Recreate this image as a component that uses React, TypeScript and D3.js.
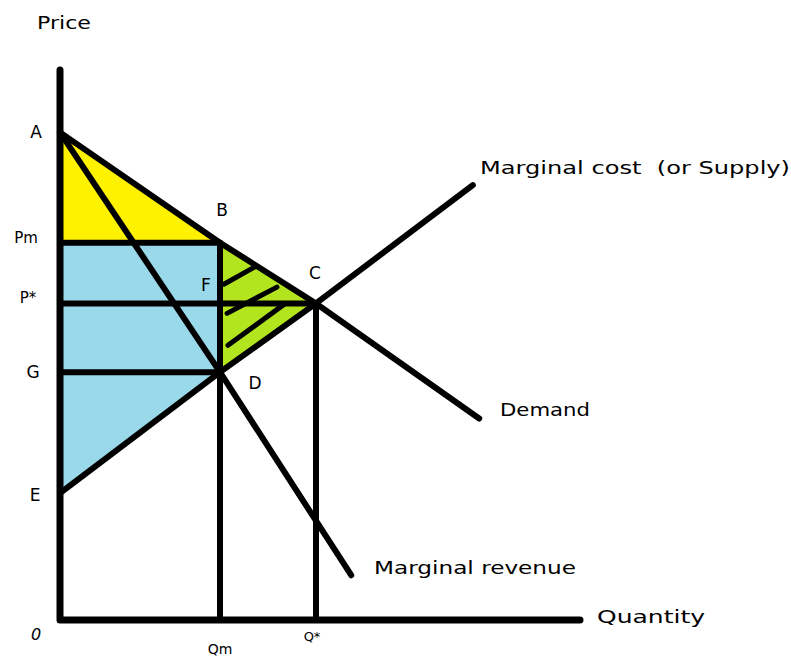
import React from 'react';
import * as d3 from 'd3';

// curves (quantity, price)
const demandQ = [0, 5, 8, 13.1];
const demandP = [15.25, 11.8, 9.9, 6.3];
const mcQ = [0, 5, 8, 12.9];
const mcP = [3.97, 7.75, 9.9, 13.6];
const mrQ = [0, 5, 9.1];
const mrP = [15.25, 7.75, 1.4];

// labelled levels
const priceNames = ['A', 'Pm', 'P*', 'G', 'E'];
const priceValues = [15.25, 11.8, 9.9, 7.75, 3.97];
const qtyNames = ['Qm', 'Q*'];
const qtyValues = [5, 8];

// hatch strokes inside the deadweight triangle
const hatchFrom = [[5.12, 10.5], [5.22, 9.59], [5.25, 8.59]];
const hatchTo = [[6.12, 11.06], [6.78, 10.41], [7.0, 9.87]];

const W = 791;
const H = 658;
const font = '"DejaVu Sans", sans-serif';

export default function App() {
  const x = d3.scaleLinear().domain([0, 16.25]).range([60, 580]);
  const y = d3.scaleLinear().domain([0, 17.2]).range([620, 70]);
  const line = d3.line<[number, number]>().x(d => x(d[0])).y(d => y(d[1]));

  const [A, Pm, Ps, G, E] = priceValues;
  const [Qm, Qs] = qtyValues;

  const yellow: [number, number][] = [[0, A], [Qm, Pm], [0, Pm]];
  const blue: [number, number][] = [[0, Pm], [Qm, Pm], [Qm, G], [0, E]];
  const green: [number, number][] = [[Qm, Pm], [Qs, Ps], [Qm, G]];

  const pts = (qs: number[], ps: number[]) => qs.map((q, i) => [q, ps[i]] as [number, number]);

  const stroke = { stroke: '#000', strokeWidth: 6, strokeLinecap: 'round' as const, fill: 'none' };

  const priceLabelX = [36, 26, 28, 33, 35];
  const priceLabelDy = [6, 0, 0, 6, 8];

  return (
    <svg width={W} height={H} style={{ position: 'absolute', left: 0, top: 0, background: '#fff' }}>
      <path d={line(yellow) + 'Z'} fill="#FFF200" />
      <path d={line(blue) + 'Z'} fill="#9AD9E9" />
      <path d={line(green) + 'Z'} fill="#B3E51F" />

      {/* level lines */}
      <path d={line([[0, Pm], [Qm, Pm]])!} {...stroke} />
      <path d={line([[0, Ps], [Qs, Ps]])!} {...stroke} />
      <path d={line([[0, G], [Qm, G]])!} {...stroke} />
      <path d={line([[Qm, Pm], [Qm, 0]])!} {...stroke} />
      <path d={line([[Qs, Ps], [Qs, 0]])!} {...stroke} />

      {hatchFrom.map((f, i) => (
        <path key={i} d={line([f as [number, number], hatchTo[i] as [number, number]])!} {...stroke} strokeWidth={5} />
      ))}

      {/* curves */}
      <path d={line(pts(demandQ, demandP))!} {...stroke} />
      <path d={line(pts(mcQ, mcP))!} {...stroke} />
      <path d={line(pts(mrQ, mrP))!} {...stroke} />

      {/* axes */}
      <path d={line([[0, 17.2], [0, 0], [16.25, 0]])!} {...stroke} strokeWidth={7} strokeLinejoin="round" />

      <g fontFamily={font} fontSize={18} fill="#000">
        <text x={37} y={29} textLength={54} lengthAdjust="spacingAndGlyphs">Price</text>
        {priceNames.map((n, i) => (
          <text key={n} x={priceLabelX[i]} y={y(priceValues[i]) + priceLabelDy[i]} textAnchor="middle" fontSize={n.length > 1 ? 15 : 17}>{n}</text>
        ))}
        <text x={36} y={640} textAnchor="middle" fontSize={16} fontStyle="italic">0</text>
        <text x={x(Qm)} y={654} textAnchor="middle" fontSize={14}>{qtyNames[0]}</text>
        <text x={x(Qs) - 4} y={641} textAnchor="middle" fontSize={13}>{qtyNames[1]}</text>
        <text x={222} y={216} textAnchor="middle" fontSize={17}>B</text>
        <text x={206} y={291} textAnchor="middle" fontSize={17}>F</text>
        <text x={315} y={279} textAnchor="middle" fontSize={17}>C</text>
        <text x={255} y={389} textAnchor="middle" fontSize={17}>D</text>
        <text x={480} y={174} textLength={310} lengthAdjust="spacingAndGlyphs" xmlSpace="preserve">Marginal cost  (or Supply)</text>
        <text x={500} y={416} textLength={90} lengthAdjust="spacingAndGlyphs">Demand</text>
        <text x={374} y={574} textLength={202} lengthAdjust="spacingAndGlyphs">Marginal revenue</text>
        <text x={597} y={623} textLength={108} lengthAdjust="spacingAndGlyphs">Quantity</text>
      </g>
    </svg>
  );
}
